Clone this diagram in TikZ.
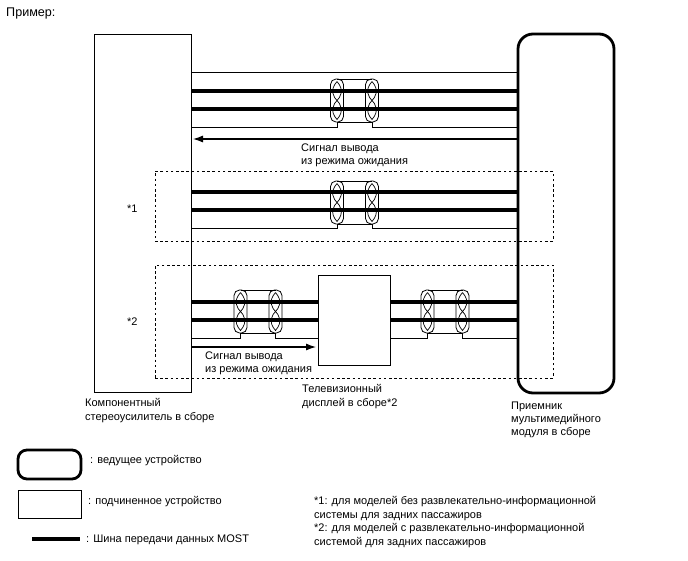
\documentclass[tikz,border=0pt]{standalone}
\usepackage{fontspec}
\setmainfont{Liberation Sans}
\tikzset{
  lbl/.style={inner sep=0pt,anchor=north west,align=left,font=\fontsize{11}{13.2}\selectfont},
  slavebox/.style={draw,line width=1pt,outer sep=0pt,inner sep=0pt},
  masterbox/.style={draw,line width=2.8pt,rounded corners=9pt,outer sep=0pt,inner sep=0pt},
  zonebox/.style={draw,line width=1pt,dash pattern=on 2.6pt off 2.6pt,outer sep=0pt,inner sep=0pt},
  bus/.style={line width=4pt},
  wire/.style={line width=.9pt},
  sigarrow/.style={line width=1.1pt,-{Latex[length=10pt,width=7pt]}},
  pics/twistpair/.style={code={
    \foreach \s in {-17.5,17.5} {
      \draw[line width=.8pt,rounded corners=5.5pt] (\s-6.5,-21.5) rectangle (\s+6.5,21.5);
      \draw[line width=.7pt] (\s,-19) .. controls (\s-8,-10) and (\s-3,-3) .. (\s,0)
        .. controls (\s+3,3) and (\s+8,10) .. (\s,19)
        .. controls (\s-8,10) and (\s-3,3) .. (\s,0)
        .. controls (\s+3,-3) and (\s+8,-10) .. (\s,-19);
    }
    \draw[line width=.8pt] (-17.5,-21.5) -- (17.5,-21.5);
    \draw[line width=.8pt] (-17.5,21.5) -- (17.5,21.5);
    \coordinate (-bl) at (-17.5,21.5);
    \coordinate (-br) at (17.5,21.5);
  }}
}
\usetikzlibrary{arrows.meta}

\begin{document}
\begin{tikzpicture}[x=1pt,y=-1pt]
   \useasboundingbox (0,0) rectangle (688,560);
   \node[lbl,font=\fontsize{12.6}{15}\selectfont] (title) at (6,8) {Пример:};

   % units
   \node[slavebox,minimum width=97pt,minimum height=358pt] (amp) at (142.5,213) {};
   \node[masterbox,rounded corners=15pt,minimum width=96pt,minimum height=359pt] (head) at (566,213.5) {};
   \node[slavebox,minimum width=72pt,minimum height=90pt] (tv) at (354,320) {};
   \node[zonebox,minimum width=398pt,minimum height=70pt] (zoneA) at (354,206) {};
   \node[zonebox,minimum width=398pt,minimum height=113pt] (zoneB) at (354,321.5) {};

   % top section
   \pic (twA) at (354.5,100.5) {twistpair};
   \draw[wire] (amp.east |- 0,72) -- (head.west |- 0,72);
   \draw[bus] (amp.east |- 0,91) -- (head.west |- 0,91);
   \draw[bus] (amp.east |- 0,109) -- (head.west |- 0,109);
   \draw[wire] (amp.east |- 0,127) -- (twA-bl |- 0,127) -- (twA-bl);
   \draw[wire] (twA-br) -- (twA-br |- 0,127) -- (head.west |- 0,127);
   \draw[sigarrow] (head.west |- 0,139) -- ([xshift=2pt]amp.east |- 0,139);
   \node[lbl] (sigA) at (301,143.5) {Сигнал вывода\\из режима ожидания};

   % zone *1
   \pic (twB) at (354.5,202.5) {twistpair};
   \draw[bus] (amp.east |- 0,192) -- (head.west |- 0,192);
   \draw[bus] (amp.east |- 0,210) -- (head.west |- 0,210);
   \draw[wire] (amp.east |- 0,228) -- (twB-bl |- 0,228) -- (twB-bl);
   \draw[wire] (twB-br) -- (twB-br |- 0,228) -- (head.west |- 0,228);
   \node[lbl] (markA) at (127,204.5) {*1};

   % zone *2
   \pic (twC) at (258,311.5) {twistpair};
   \pic (twD) at (445,311.5) {twistpair};
   \foreach \y in {302,320} {
     \draw[bus] (amp.east |- 0,\y) -- (tv.west |- 0,\y);
     \draw[bus] (tv.east |- 0,\y) -- (head.west |- 0,\y);
   }
   \draw[wire] (amp.east |- 0,338) -- (twC-bl |- 0,338) -- (twC-bl);
   \draw[wire] (twC-br) -- (twC-br |- 0,338) -- (tv.west |- 0,338);
   \draw[wire] (tv.east |- 0,338) -- (twD-bl |- 0,338) -- (twD-bl);
   \draw[wire] (twD-br) -- (twD-br |- 0,338) -- (head.west |- 0,338);
   \draw[sigarrow] (amp.east |- 0,347) -- ([xshift=-2pt]tv.west |- 0,347);
   \node[lbl] (sigB) at (205,351.5) {Сигнал вывода\\из режима ожидания};
   \node[lbl] (markB) at (127,318) {*2};

   % unit names
   \node[lbl] (ampname) at (85,398.5) {Компонентный\\стереоусилитель в сборе};
   \node[lbl] (tvname) at (302,384.5) {Телевизионный\\дисплей в сборе*2};
   \node[lbl] (headname) at (511,401.5) {Приемник\\мультимедийного\\модуля в сборе};

   % legend
   \node[masterbox,minimum width=63pt,minimum height=29pt] (keymaster) at (49.5,464.5) {};
   \node[slavebox,minimum width=63pt,minimum height=28pt] (keyslave) at (49.5,504) {};
   \coordinate (keybusA) at (32,539);
   \coordinate (keybusB) at (80,539);
   \draw[bus] (keybusA) -- (keybusB);
   \node[lbl] (keymastertext) at (90,455.5) {: ведущее устройство};
   \node[lbl] (keyslavetext) at (88,496.5) {: подчиненное устройство};
   \node[lbl] (keybustext) at (86,534.5) {: Шина передачи данных MOST};

   % notes
   \node[lbl] (noteA) at (314,496.5) {*1: для моделей без развлекательно-информационной\\системы для задних пассажиров};
   \node[lbl] (noteB) at (314,523.5) {*2: для моделей с развлекательно-информационной\\системой для задних пассажиров};
\end{tikzpicture}
\end{document}
